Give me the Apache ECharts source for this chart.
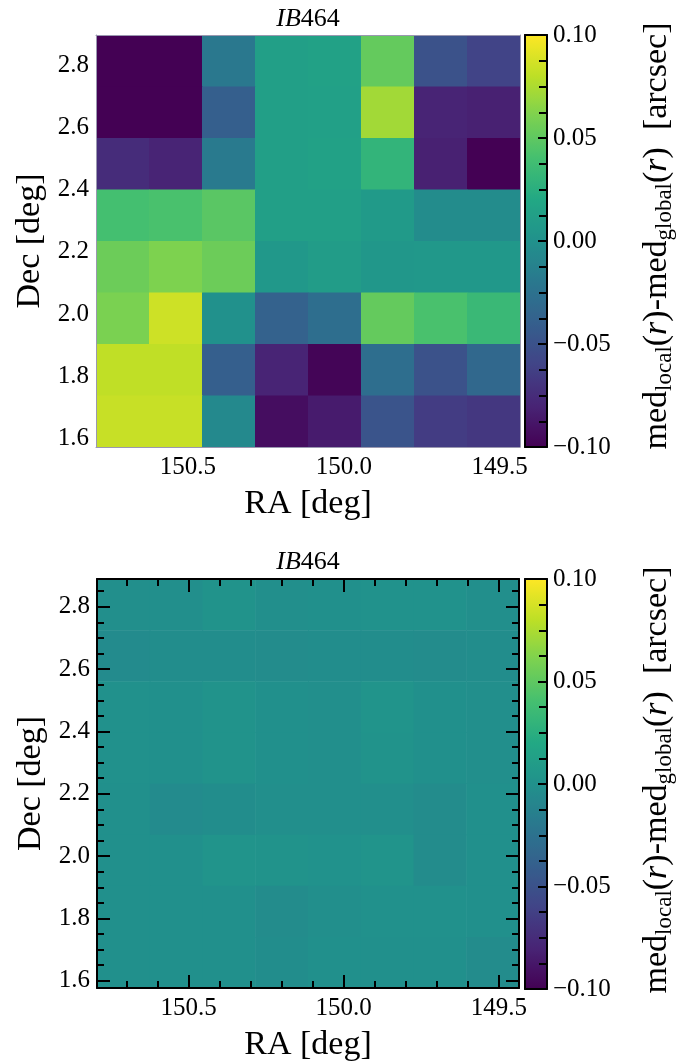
<!DOCTYPE html>
<html><head><meta charset="utf-8">
<script src="https://cdn.jsdelivr.net/npm/echarts@6/dist/echarts.min.js"></script>
<style>html,body{margin:0;padding:0;background:#fff}#c{width:694px;height:1063px}</style>
</head><body><div id="c"></div>
<script>
// ---- data ----
const raRange = [149.435, 150.795];          // RA extent (deg); axis runs high -> low
const decRangeTop = [1.572, 2.898];          // Dec extent of upper map
const decRangeBottom = [1.577, 2.889];       // Dec extent of lower map
const panelTitle = 'IB464';
// rows from top (high Dec) to bottom, columns from left (high RA) to right
const topValues = [
  [-0.100, -0.100, -0.020,  0.012,  0.014,  0.052, -0.050, -0.060],
  [-0.100, -0.100, -0.040,  0.012,  0.013,  0.072, -0.080, -0.082],
  [-0.075, -0.080, -0.018,  0.012,  0.014,  0.030, -0.082, -0.100],
  [ 0.040,  0.042,  0.048,  0.012,  0.012,  0.008, -0.004, -0.004],
  [ 0.055,  0.061,  0.055,  0.006,  0.010,  0.005,  0.006,  0.006],
  [ 0.060,  0.085,  0.000, -0.038, -0.028,  0.052,  0.042,  0.034],
  [ 0.081,  0.081, -0.040, -0.080, -0.098, -0.028, -0.050, -0.033],
  [ 0.083,  0.083, -0.006, -0.093, -0.085, -0.048, -0.065, -0.068]
];
const bottomValues = [
  [-0.002, -0.002,  0.002, -0.002, -0.001,  0.001,  0.001, -0.002],
  [-0.005, -0.003, -0.003, -0.004, -0.003, -0.003, -0.004, -0.003],
  [ 0.000, -0.001,  0.002, -0.001, -0.002,  0.003, -0.001, -0.002],
  [ 0.000, -0.001,  0.002, -0.001, -0.002,  0.002, -0.001, -0.002],
  [-0.001, -0.005, -0.003, -0.002, -0.002, -0.002, -0.004, -0.001],
  [-0.001, -0.001,  0.003,  0.002,  0.001,  0.003, -0.004, -0.001],
  [-0.001, -0.001, -0.001, -0.004, -0.002,  0.000,  0.000, -0.001],
  [-0.001, -0.001, -0.001, -0.003, -0.001, -0.001, -0.001, -0.004]
];
const xTicks = [150.5, 150.0, 149.5];
const xMinorTicks = [150.7, 150.6, 150.4, 150.3, 150.2, 150.1, 149.9, 149.8, 149.7, 149.6];
const yTicks = [1.6, 1.8, 2.0, 2.2, 2.4, 2.6, 2.8];
const yMinorTicks = [1.65, 1.7, 1.75, 1.85, 1.9, 1.95, 2.05, 2.1, 2.15, 2.25, 2.3, 2.35,
                     2.45, 2.5, 2.55, 2.65, 2.7, 2.75, 2.85];
const cbarRange = [-0.10, 0.10];
const cbarTickStep = 0.05;

// ---- styling ----
const FONT = 'Liberation Serif';
const viridis = ['#440154','#482475','#414487','#355f8d','#2a788e','#21918c',
                 '#22a884','#44bf70','#7ad151','#bddf26','#fde725'];

function buildCells(values, decRange) {
  const nr = values.length, nc = values[0].length;
  const w = (raRange[1] - raRange[0]) / nc;
  const h = (decRange[1] - decRange[0]) / nr;
  const out = [];
  for (let r = 0; r < nr; r++) for (let c = 0; c < nc; c++) {
    const raL = raRange[1] - c * w, raR = raRange[1] - (c + 1) * w;
    const decT = decRange[1] - r * h, decB = decRange[1] - (r + 1) * h;
    out.push([raL, raR, decB, decT, values[r][c]]);
  }
  return out;
}
function renderCell(params, api) {
  const p0 = api.coord([api.value(0), api.value(3)]);
  const p1 = api.coord([api.value(1), api.value(2)]);
  const x = Math.min(p0[0], p1[0]), y = Math.min(p0[1], p1[1]);
  return { type: 'rect',
    shape: { x: x, y: y, width: Math.abs(p1[0] - p0[0]) + 0.6, height: Math.abs(p1[1] - p0[1]) + 0.6 },
    style: { fill: api.visual('color') } };
}
const fmt1 = v => v.toFixed(1);
const fmtCbar = v => (v < -1e-9 ? '\u2212' : '') + Math.abs(v).toFixed(2);
const lbl = { fontFamily: FONT, fontSize: 25, color: '#000' };
const nameStyle = { fontFamily: FONT, fontSize: 34, color: '#000' };

const grids = [
  { left: 96, top: 35, width: 424, height: 412 },
  { left: 97, top: 579, width: 422, height: 410 },
  { left: 525, top: 35, width: 22, height: 412 },
  { left: 525, top: 579, width: 22, height: 410 }
];
const xAxes = [], yAxes = [];
function addX(o) { xAxes.push(Object.assign({ type: 'value', z: 10, splitLine: { show: false } }, o)); return xAxes.length - 1; }
function addY(o) { yAxes.push(Object.assign({ type: 'value', z: 10, splitLine: { show: false } }, o)); return yAxes.length - 1; }

const black2 = { show: true, onZero: false, lineStyle: { color: '#000', width: 2 } };
const grey1 = { show: true, onZero: false, lineStyle: { color: '#9a98b0', width: 1 } };
const noLine = { show: false, onZero: false };
// upper panel: labels only, thin grey frame
const gx0 = addX({ gridIndex: 0, position: 'bottom', min: raRange[0], max: raRange[1], inverse: true,
  axisLine: grey1, axisTick: { show: false },
  axisLabel: Object.assign({ customValues: xTicks, formatter: fmt1, margin: 8 }, lbl),
  name: 'RA [deg]', nameLocation: 'middle', nameGap: 40, nameTextStyle: nameStyle });
addX({ gridIndex: 0, position: 'top', min: raRange[0], max: raRange[1], inverse: true,
  axisLine: grey1, axisTick: { show: false }, axisLabel: { show: false } });
const gy0 = addY({ gridIndex: 0, position: 'left', min: decRangeTop[0], max: decRangeTop[1],
  axisLine: grey1, axisTick: { show: false },
  axisLabel: Object.assign({ customValues: yTicks, formatter: fmt1, margin: 7 }, lbl),
  name: 'Dec [deg]', nameLocation: 'middle', nameRotate: 90, nameGap: 46, nameTextStyle: nameStyle });
addY({ gridIndex: 0, position: 'right', min: decRangeTop[0], max: decRangeTop[1],
  axisLine: grey1, axisTick: { show: false }, axisLabel: { show: false } });

// lower panel: black frame, inward ticks on all sides
const tickMaj = len => ({ show: true, inside: true, length: len, lineStyle: { color: '#000', width: 2 } });
const gx1 = addX({ gridIndex: 1, position: 'bottom', min: raRange[0], max: raRange[1], inverse: true,
  axisLine: black2, axisTick: Object.assign({ customValues: xTicks }, tickMaj(13)),
  axisLabel: Object.assign({ customValues: xTicks, formatter: fmt1, margin: 8 }, lbl),
  name: 'RA [deg]', nameLocation: 'middle', nameGap: 40, nameTextStyle: nameStyle });
addX({ gridIndex: 1, position: 'bottom', min: raRange[0], max: raRange[1], inverse: true,
  axisLine: noLine, axisTick: Object.assign({ customValues: xMinorTicks }, tickMaj(7)), axisLabel: { show: false } });
addX({ gridIndex: 1, position: 'top', min: raRange[0], max: raRange[1], inverse: true,
  axisLine: black2, axisTick: Object.assign({ customValues: xTicks }, tickMaj(13)), axisLabel: { show: false } });
addX({ gridIndex: 1, position: 'top', min: raRange[0], max: raRange[1], inverse: true,
  axisLine: noLine, axisTick: Object.assign({ customValues: xMinorTicks }, tickMaj(7)), axisLabel: { show: false } });
const gy1 = addY({ gridIndex: 1, position: 'left', min: decRangeBottom[0], max: decRangeBottom[1],
  axisLine: black2, axisTick: Object.assign({ customValues: yTicks }, tickMaj(13)),
  axisLabel: Object.assign({ customValues: yTicks, formatter: fmt1, margin: 7 }, lbl),
  name: 'Dec [deg]', nameLocation: 'middle', nameRotate: 90, nameGap: 46, nameTextStyle: nameStyle });
addY({ gridIndex: 1, position: 'left', min: decRangeBottom[0], max: decRangeBottom[1],
  axisLine: noLine, axisTick: Object.assign({ customValues: yMinorTicks }, tickMaj(7)), axisLabel: { show: false } });
addY({ gridIndex: 1, position: 'right', min: decRangeBottom[0], max: decRangeBottom[1],
  axisLine: black2, axisTick: Object.assign({ customValues: yTicks }, tickMaj(13)), axisLabel: { show: false } });
addY({ gridIndex: 1, position: 'right', min: decRangeBottom[0], max: decRangeBottom[1],
  axisLine: noLine, axisTick: Object.assign({ customValues: yMinorTicks }, tickMaj(7)), axisLabel: { show: false } });

// colour bars: frame + ticks
[2, 3].forEach(g => {
  addX({ gridIndex: g, position: 'bottom', min: 0, max: 1, axisLine: black2, axisTick: { show: false }, axisLabel: { show: false } });
  addX({ gridIndex: g, position: 'top', min: 0, max: 1, axisLine: black2, axisTick: { show: false }, axisLabel: { show: false } });
  addY({ gridIndex: g, position: 'left', min: cbarRange[0], max: cbarRange[1], axisLine: black2, axisTick: { show: false }, axisLabel: { show: false } });
  addY({ gridIndex: g, position: 'right', min: cbarRange[0], max: cbarRange[1], interval: cbarTickStep,
    axisLine: black2, axisTick: tickMaj(9),
    minorTick: { show: true, splitNumber: 4, length: 8, lineStyle: { color: '#000', width: 2 } },
    axisLabel: Object.assign({ formatter: fmtCbar, margin: 6 }, lbl) });
});

const cbarName = '{n|med}{s|local}{n|(}{i|r}{n|)-med}{s|global}{n|(}{i|r}{n|)  [arcsec]}';
const cbarRich = {
  n: { fontFamily: FONT, fontSize: 34, lineHeight: 44, color: '#000' },
  i: { fontFamily: FONT, fontSize: 34, fontStyle: 'italic', lineHeight: 44, color: '#000' },
  s: { fontFamily: FONT, fontSize: 23, lineHeight: 23, padding: [16, 0, 0, 0], color: '#000' }
};
const titleRich = {
  i: { fontFamily: FONT, fontSize: 26, fontStyle: 'italic', color: '#000' },
  n: { fontFamily: FONT, fontSize: 26, color: '#000' }
};
function gText(x, y, text, rich, rot) {
  return { type: 'text', x: x, y: y, rotation: rot || 0, z: 20,
    style: { text: text, rich: rich, align: 'center', verticalAlign: 'middle', fill: '#000' } };
}

const option = {
  animation: false,
  backgroundColor: '#fff',
  grid: grids,
  xAxis: xAxes,
  yAxis: yAxes,
  visualMap: [0, 1].map(k => ({
    type: 'continuous', min: cbarRange[0], max: cbarRange[1], dimension: 4, seriesIndex: k,
    inRange: { color: viridis }, calculable: false, hoverLink: false, padding: 0,
    left: grids[k + 2].left, top: grids[k + 2].top,
    itemWidth: grids[k + 2].width, itemHeight: grids[k + 2].height, text: null, z: 4
  })),
  series: [
    { type: 'custom', xAxisIndex: gx0, yAxisIndex: gy0, renderItem: renderCell, clip: true,
      encode: { x: [0, 1], y: [2, 3] }, data: buildCells(topValues, decRangeTop), silent: true },
    { type: 'custom', xAxisIndex: gx1, yAxisIndex: gy1, renderItem: renderCell, clip: true,
      encode: { x: [0, 1], y: [2, 3] }, data: buildCells(bottomValues, decRangeBottom), silent: true }
  ],
  graphic: [
    gText(308, 19, '{i|IB}{n|' + panelTitle.slice(2) + '}', titleRich),
    gText(308, 562, '{i|IB}{n|' + panelTitle.slice(2) + '}', titleRich),
    gText(657, 236, cbarName, cbarRich, Math.PI / 2),
    gText(657, 780, cbarName, cbarRich, Math.PI / 2)
  ]
};
const chart = echarts.init(document.getElementById('c'), null, { renderer: 'canvas' });
chart.setOption(option);
</script>
</body></html>
